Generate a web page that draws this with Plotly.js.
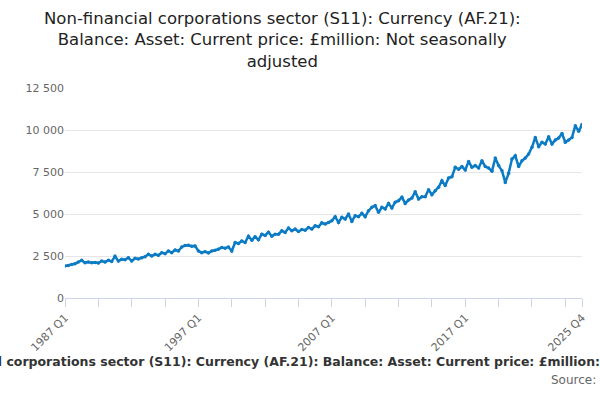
<!DOCTYPE html>
<html>
<head>
<meta charset="utf-8">
<script src="https://cdn.plot.ly/plotly-3.0.1.min.js"></script>
<style>body{margin:0}#plot{width:600px;height:400px}</style>
</head>
<body>
<div id="plot"></div>
<script>
// quarterly values 1987 Q1 .. 2025 Q4
const values = [
  1900, 1940, 2000, 2040, 2140, 2240, 2100, 2140, 2100, 2120,
  2080, 2200, 2140, 2240, 2180, 2480, 2200, 2300, 2280, 2400,
  2200, 2360, 2320, 2400, 2460, 2600, 2500, 2600, 2540, 2700,
  2640, 2800, 2700, 2860, 2800, 3040, 3120, 3140, 3080, 3100,
  2800, 2700, 2760, 2680, 2800, 2840, 2900, 3000, 2960, 3040,
  2800, 3300, 3240, 3400, 3300, 3680, 3440, 3640, 3460, 3800,
  3720, 3920, 3680, 3800, 3800, 4000, 3900, 4160, 4000, 4100,
  3960, 4080, 4040, 4200, 4100, 4300, 4240, 4480, 4400, 4500,
  4600, 4840, 4500, 4800, 4700, 5000, 4560, 4900, 4840, 5040,
  4840, 5200, 5400, 5500, 5100, 5400, 5300, 5630, 5360, 5700,
  5790, 6000, 5630, 5830, 5950, 6330, 5890, 6030, 6030, 6450,
  6150, 6390, 6590, 6980, 6690, 7140, 7220, 7780, 7660, 7820,
  7620, 8130, 7780, 7880, 7740, 8170, 7820, 7740, 7540, 8330,
  7880, 7580, 6880, 7420, 8270, 8470, 7820, 8170, 8330, 8570,
  8970, 9560, 9010, 9270, 9170, 9600, 9170, 9400, 9520, 9790,
  9270, 9400, 9560, 10260, 9920, 10320
];
const quarters = values.map((v, i) => (1987 + Math.floor(i / 4)) + ' Q' + (i % 4 + 1));
const idx = values.map((v, i) => i);
const labelAt = [0, 40, 80, 120, 155];

const tickvals = [];
for (let i = 0; i < 155; i += 10) tickvals.push(i);
tickvals.push(155);
const ticktext = tickvals.map(i => labelAt.includes(i) ? quarters[i] : '');

const fullTitle = 'Non-financial corporations sector (S11): Currency (AF.21): Balance: Asset: Current price: £million: Not seasonally adjusted';

const trace = {
  x: idx,
  y: values,
  text: quarters,
  type: 'scatter',
  mode: 'lines+markers',
  line: { color: '#0b7bc4', width: 2.5 },
  marker: { color: '#0b7bc4', size: 3.5 },
  hoverinfo: 'text+y'
};

const layout = {
  width: 600,
  height: 400,
  showlegend: false,
  separators: '. ',
  font: { family: 'DejaVu Sans, Verdana, sans-serif', color: '#444' },
  paper_bgcolor: '#fff',
  plot_bgcolor: '#fff',
  margin: { l: 65, r: 18, t: 88, b: 102 },
  xaxis: {
    range: [0, 155],
    tickmode: 'array',
    tickvals: tickvals,
    ticktext: ticktext,
    tickangle: -45,
    ticks: 'outside',
    ticklen: 8,
    tickcolor: '#ccd6eb',
    showline: true,
    linecolor: '#ccd6eb',
    showgrid: false,
    zeroline: false,
    tickfont: { size: 11, color: '#666' }
  },
  yaxis: {
    range: [0, 12500],
    tickvals: [0, 2500, 5000, 7500, 10000, 12500],
    tickformat: ',d',
    gridcolor: '#e6e6e6',
    zeroline: false,
    showline: false,
    tickfont: { size: 11, color: '#666' }
  },
  annotations: [
    {
      text: 'Non-financial corporations sector (S11): Currency (AF.21):<br>Balance: Asset: Current price: £million: Not seasonally<br>adjusted',
      xref: 'paper', yref: 'paper', x: 0.42, y: 1.23,
      xanchor: 'center', yanchor: 'middle', showarrow: false,
      font: { size: 16.5, color: '#222' }
    },
    {
      text: '<b>' + fullTitle + '</b>',
      xref: 'paper', yref: 'paper', x: 0.535, y: -0.30,
      xanchor: 'center', yanchor: 'middle', showarrow: false,
      font: { size: 12.5, color: '#333' }
    },
    {
      text: 'Source:',
      xref: 'paper', yref: 'paper', x: 1.03, y: -0.39,
      xanchor: 'right', yanchor: 'middle', showarrow: false,
      font: { size: 12, color: '#666' }
    }
  ]
};

Plotly.newPlot('plot', [trace], layout, { displayModeBar: false });
</script>
</body>
</html>
